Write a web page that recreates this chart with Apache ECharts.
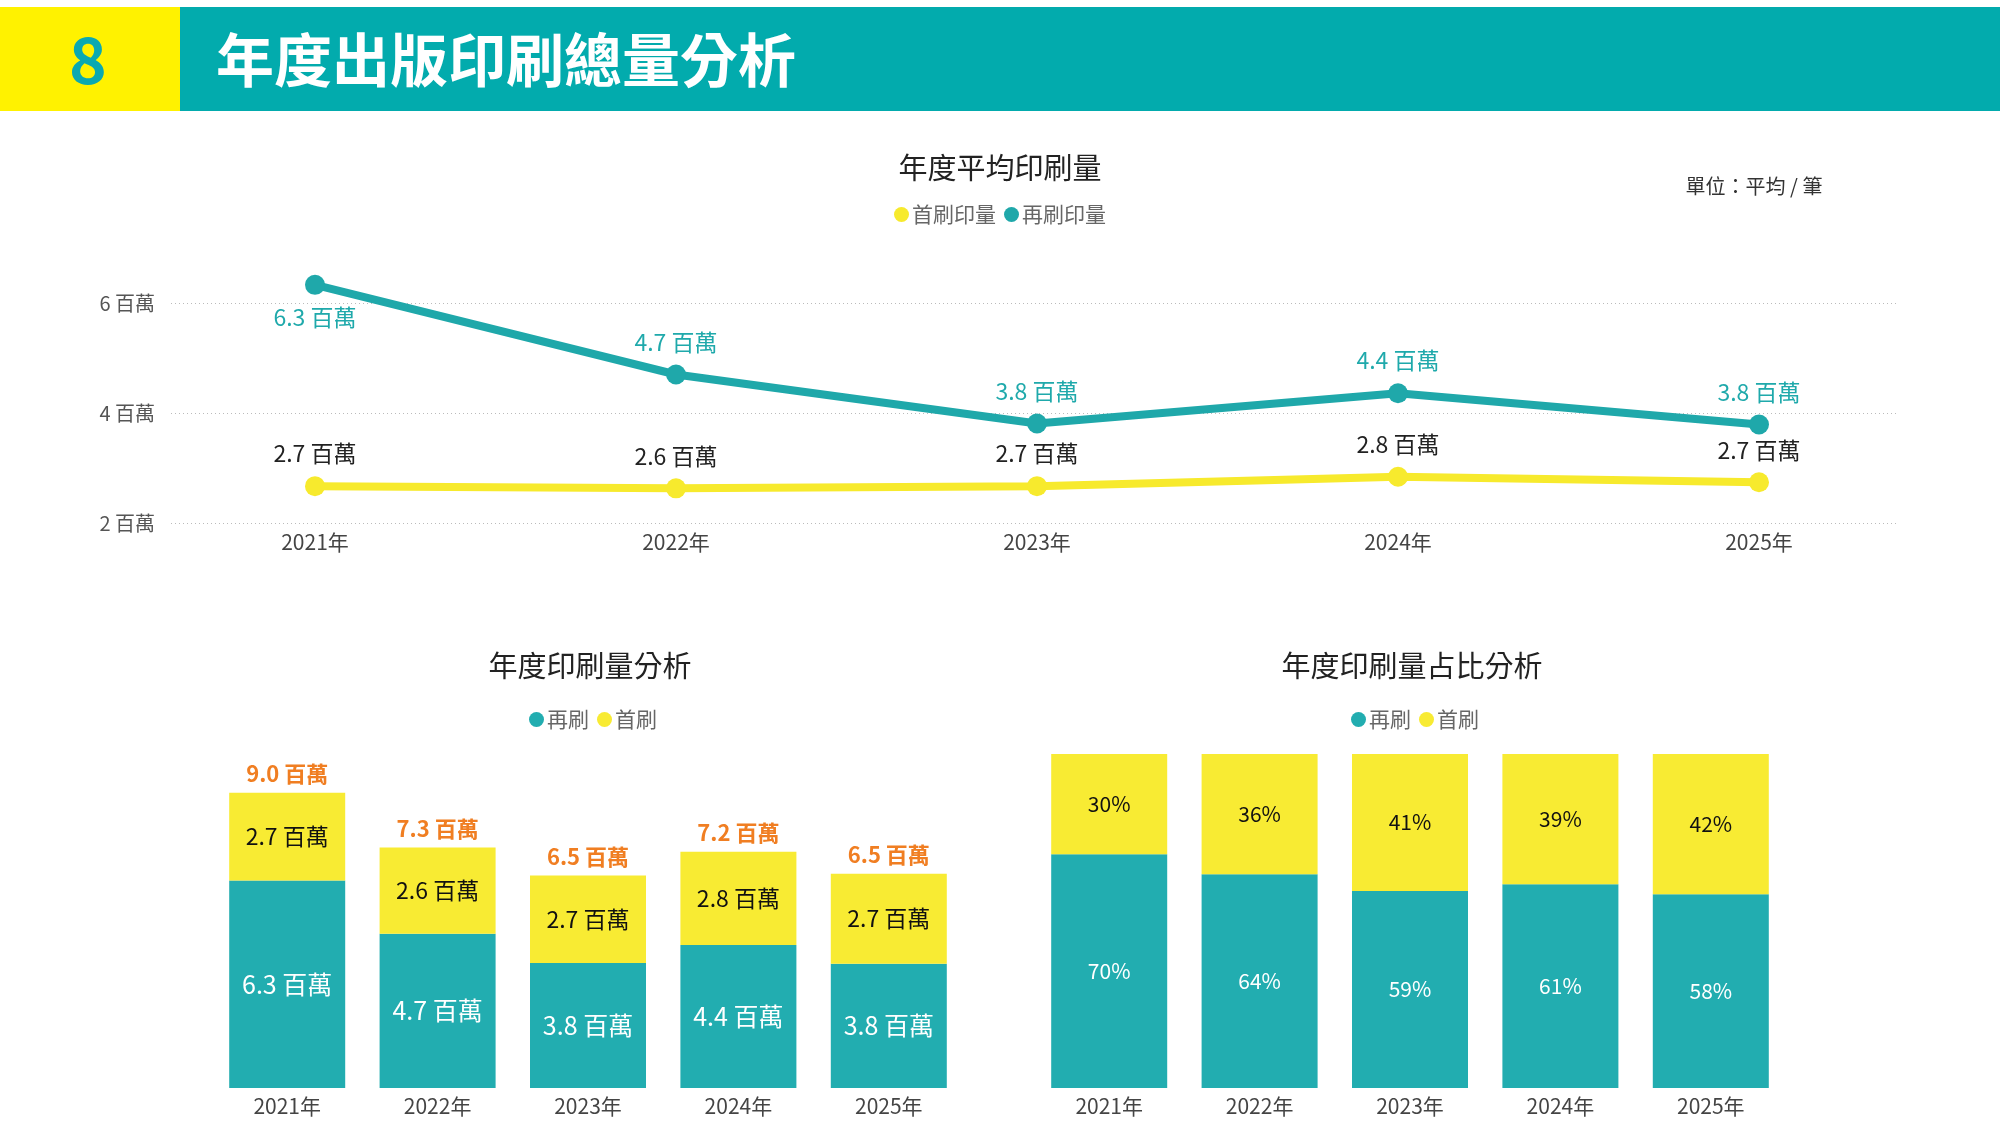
<!DOCTYPE html>
<html>
<head>
<meta charset="utf-8">
<script src="https://cdn.jsdelivr.net/npm/echarts@6/dist/echarts.min.js"></script>
<style>
html,body{margin:0;padding:0;background:#fff;}
#chart{width:2000px;height:1141px;}
</style>
</head>
<body>
<div id="chart"></div>
<script>
// ---- data ----
const years = ['2021年', '2022年', '2023年', '2024年', '2025年'];
const firstPrint = [2.67, 2.63, 2.67, 2.84, 2.74];   // 首刷 (百萬)
const reprint = [6.33, 4.70, 3.81, 4.36, 3.79];      // 再刷 (百萬)
const totals = [9.0, 7.3, 6.5, 7.2, 6.5];            // 合計 (百萬)
const firstPct = [30, 36, 41, 39, 42];               // 首刷占比 %
const reprintPct = [70, 64, 59, 61, 58];             // 再刷占比 %
const reprintLabelPos = ['bottom', 'top', 'top', 'top', 'top'];

const FONT = "'Noto Sans CJK TC', 'Noto Sans', sans-serif";
const TEAL = '#22adb0';
const TEAL_LINE = '#1fa8aa';
const YELLOW = '#f8eb33';
const YELLOW_LINE = '#f7ea2d';
const ORANGE = '#f07e22';

const chart = echarts.init(document.getElementById('chart'));
const fmtM = v => v.toFixed(1) + ' 百萬';

const option = {
  backgroundColor: '#ffffff',
  textStyle: { fontFamily: FONT },
  animation: false,
  graphic: [
    { type: 'rect', shape: { x: 0, y: 7, width: 2000, height: 104 }, style: { fill: '#02abad' } },
    { type: 'rect', shape: { x: 0, y: 7, width: 180, height: 104 }, style: { fill: '#fff200' } },
    { type: 'text', x: 88, y: 60, style: { text: '8', fill: '#0ba9b0', font: 'bold 64px ' + FONT, textAlign: 'center', textVerticalAlign: 'middle' } },
    { type: 'text', x: 216, y: 60, style: { text: '年度出版印刷總量分析', fill: '#ffffff', font: 'bold 58px ' + FONT, textAlign: 'left', textVerticalAlign: 'middle' } },
    { type: 'text', x: 1000, y: 168, style: { text: '年度平均印刷量', fill: '#222', font: '29px ' + FONT, textAlign: 'center', textVerticalAlign: 'middle' } },
    { type: 'text', x: 1754, y: 186, style: { text: '單位：平均 / 筆', fill: '#333', font: '20px ' + FONT, textAlign: 'center', textVerticalAlign: 'middle' } },
    { type: 'text', x: 590, y: 666, style: { text: '年度印刷量分析', fill: '#222', font: '29px ' + FONT, textAlign: 'center', textVerticalAlign: 'middle' } },
    { type: 'text', x: 1412, y: 666, style: { text: '年度印刷量占比分析', fill: '#222', font: '29px ' + FONT, textAlign: 'center', textVerticalAlign: 'middle' } }
  ],
  legend: [
    { data: ['首刷印量', '再刷印量'], left: 'center', top: 199, icon: 'circle', itemWidth: 15, itemHeight: 15, itemGap: 8,
      textStyle: { color: '#666', fontSize: 21, fontFamily: FONT, padding: [0, 0, 0, -2] } },
    { data: ['再刷', '首刷'], left: 524, top: 704, icon: 'circle', itemWidth: 15, itemHeight: 15, itemGap: 8,
      textStyle: { color: '#666', fontSize: 21, fontFamily: FONT, padding: [0, 0, 0, -2] } },
    { data: ['再刷', '首刷'], left: 1346, top: 704, icon: 'circle', itemWidth: 15, itemHeight: 15, itemGap: 8,
      textStyle: { color: '#666', fontSize: 21, fontFamily: FONT, padding: [0, 0, 0, -2] } }
  ],
  grid: [
    { left: 171, right: 101, top: 303, bottom: 618 },
    { left: 315, right: 241, top: 303, bottom: 618 },
    { left: 212, right: 1036, top: 760, bottom: 53 },
    { left: 1034, right: 214, top: 754, bottom: 53 }
  ],
  xAxis: [
    { type: 'category', gridIndex: 0, data: years, show: false },
    { type: 'category', gridIndex: 1, data: years, boundaryGap: false,
      axisLine: { show: false }, axisTick: { show: false },
      axisLabel: { color: '#444', fontSize: 21, margin: 9, fontFamily: FONT } },
    { type: 'category', gridIndex: 2, data: years,
      axisLine: { show: false }, axisTick: { show: false },
      axisLabel: { color: '#444', fontSize: 21, margin: 8, fontFamily: FONT } },
    { type: 'category', gridIndex: 3, data: years,
      axisLine: { show: false }, axisTick: { show: false },
      axisLabel: { color: '#444', fontSize: 21, margin: 8, fontFamily: FONT } }
  ],
  yAxis: [
    { type: 'value', gridIndex: 0, min: 2, max: 6, interval: 2,
      axisLine: { show: false }, axisTick: { show: false },
      axisLabel: { formatter: '{value} 百萬', color: '#555', fontSize: 20, margin: 16, fontFamily: FONT },
      splitLine: { show: true, lineStyle: { color: '#bbb', type: [1, 3], width: 1 } } },
    { type: 'value', gridIndex: 1, min: 2, max: 6, show: false, splitLine: { show: false } },
    { type: 'value', gridIndex: 2, min: 0, max: 10, show: false, splitLine: { show: false } },
    { type: 'value', gridIndex: 3, min: 0, max: 100, show: false, splitLine: { show: false } }
  ],
  series: [
    { name: '首刷印量', type: 'line', xAxisIndex: 1, yAxisIndex: 1, data: firstPrint, clip: false,
      symbol: 'circle', symbolSize: 20, color: YELLOW_LINE,
      lineStyle: { width: 8, color: YELLOW_LINE }, itemStyle: { color: YELLOW_LINE },
      label: { show: true, position: 'top', distance: 11, color: '#222', fontSize: 23, fontFamily: FONT,
        formatter: p => fmtM(p.value) } },
    { name: '再刷印量', type: 'line', xAxisIndex: 1, yAxisIndex: 1, clip: false,
      data: reprint.map((v, i) => ({ value: v, label: { position: reprintLabelPos[i] } })),
      symbol: 'circle', symbolSize: 20, color: TEAL_LINE,
      lineStyle: { width: 8, color: TEAL_LINE }, itemStyle: { color: TEAL_LINE },
      label: { show: true, position: 'top', distance: 11, color: '#1fa9ab', fontSize: 23, fontFamily: FONT,
        formatter: p => fmtM(p.value) } },

    { name: '再刷', type: 'bar', xAxisIndex: 2, yAxisIndex: 2, stack: 'amt', data: reprint, barWidth: 116,
      color: TEAL, itemStyle: { color: TEAL },
      label: { show: true, position: 'inside', color: '#fff', fontSize: 25, fontFamily: FONT, formatter: p => fmtM(p.value) } },
    { name: '首刷', type: 'bar', xAxisIndex: 2, yAxisIndex: 2, stack: 'amt', data: firstPrint, barWidth: 116,
      color: YELLOW, itemStyle: { color: YELLOW },
      label: { show: true, position: 'inside', color: '#111', fontSize: 23, fontFamily: FONT, formatter: p => fmtM(p.value) } },
    { name: '合計', type: 'bar', xAxisIndex: 2, yAxisIndex: 2, stack: 'amt', data: totals.map(() => 0), barWidth: 116,
      itemStyle: { color: 'rgba(0,0,0,0)' }, tooltip: { show: false },
      label: { show: true, position: 'top', distance: 8, color: ORANGE, fontSize: 22, fontWeight: 'bold', fontFamily: FONT,
        formatter: p => fmtM(totals[p.dataIndex]) } },

    { name: '再刷', type: 'bar', xAxisIndex: 3, yAxisIndex: 3, stack: 'pct', data: reprintPct, barWidth: 116,
      color: TEAL, itemStyle: { color: TEAL },
      label: { show: true, position: 'inside', color: '#fff', fontSize: 21, fontFamily: FONT, formatter: '{c}%' } },
    { name: '首刷', type: 'bar', xAxisIndex: 3, yAxisIndex: 3, stack: 'pct', data: firstPct, barWidth: 116,
      color: YELLOW, itemStyle: { color: YELLOW },
      label: { show: true, position: 'inside', color: '#111', fontSize: 21, fontFamily: FONT, formatter: '{c}%' } }
  ]
};
chart.setOption(option);
</script>
</body>
</html>
